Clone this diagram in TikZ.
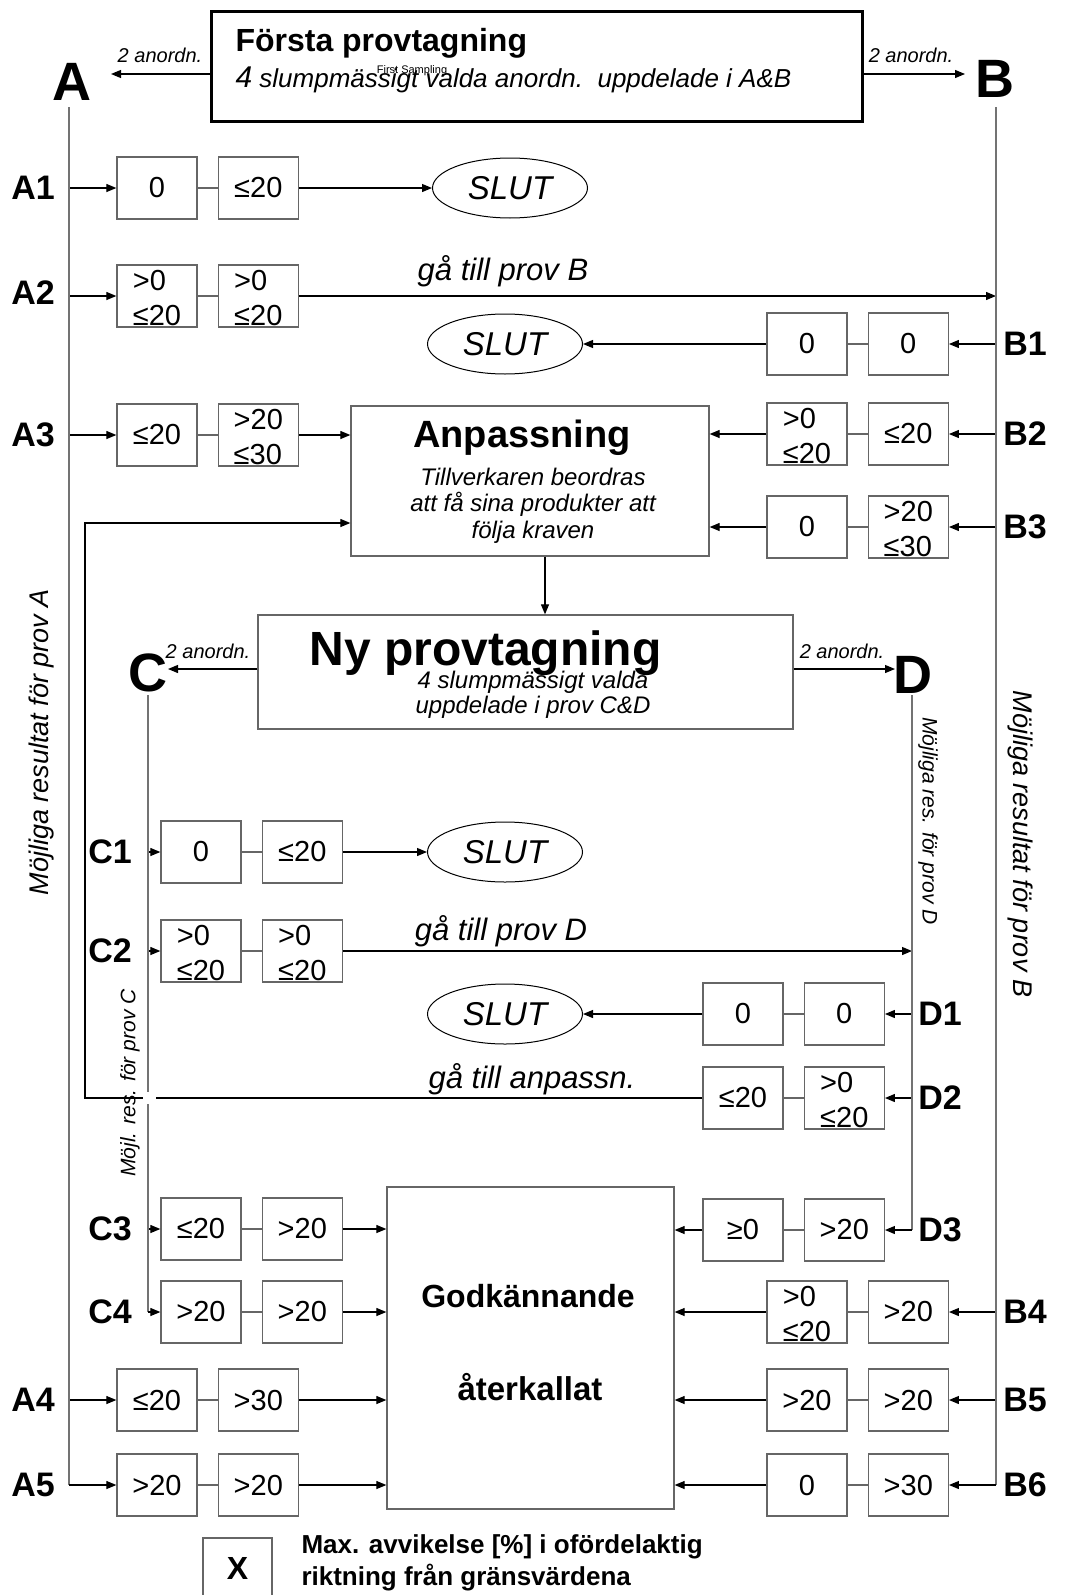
\documentclass[tikz,border=0pt]{standalone}
\usepackage{fontspec}
\setmainfont{Liberation Sans}
\usetikzlibrary{arrows.meta, positioning, shapes.geometric}

\newcommand{\fsz}[2]{\fontsize{#1}{#2}\selectfont}

\begin{document}
\begin{tikzpicture}[x=1pt, y=-1pt,
      val/.style={rectangle, draw=black!60, line width=1.3pt, minimum width=80pt,
                  minimum height=62pt, inner sep=0pt, font=\fsz{29}{35}},
      val2/.style={val, align=left, text height=60pt, text depth=1pt},
      slut/.style={ellipse, draw, line width=1pt, minimum width=155pt,
                   minimum height=60pt, inner sep=0pt, font=\itshape\fsz{33}{36}},
      stage/.style={rectangle, draw=black!60, line width=1.3pt, inner sep=0pt},
      flow/.style={-{Triangle[length=10pt,width=8pt]}, line width=1.2pt},
      link/.style={line width=1.2pt, draw=black!60},
      trunk/.style={line width=1.4pt, draw=black!55},
      rowlab/.style={font=\bfseries\fsz{34}{36}},
      big/.style={font=\bfseries\fsz{54}{54}},
      note/.style={font=\itshape\fsz{20}{22}},
      goto/.style={font=\itshape\fsz{31}{34}},
      side/.style={font=\itshape\fsz{27}{30}},
      sidesmall/.style={font=\itshape\fsz{21}{24}}
    ]
    \useasboundingbox (0,0) rectangle (1068,1595);

    % First sampling
    \node[draw, line width=3pt, minimum width=651pt, minimum height=110pt, inner sep=0pt] (first) at (537,66.5) {};
    \node[anchor=base west, font=\bfseries\fsz{32}{34}] (firstT) at (232,52) {Första provtagning};
    \node[anchor=base west, font=\itshape\fsz{26}{28}] (firstS) at (232,88) {{\fsz{30}{30}4} slumpmässigt valda anordn.\ \ uppdelade i A\&B};
    \node[font=\fsz{11}{12}] (firstE) at (412,71) {First Sampling};

    \node[big, anchor=base] (A) at (72,100) {A};
    \node[big, anchor=base] (B) at (995,97) {B};
    \coordinate (toA) at (111,74);
    \coordinate (toB) at (965,74);
    \coordinate (trunkA) at (69,107);
    \coordinate (trunkB) at (996,107);
    \draw[flow] (first.west |- toA) -- (toA);
    \draw[flow] (first.east |- toB) -- (toB);
    \node[note, anchor=base] at (160,63) {2 anordn.};
    \node[note, anchor=base] at (911,63) {2 anordn.};

    % Sample A, rows 1-3
    \node[rowlab] (lA1) at (33,188) {A1};
    \node[val] (a1a) at (157,188) {0};
    \node[val, right=20pt of a1a] (a1b) {≤20};
    \node[slut] (slutA1) at (510,188) {SLUT};
    \draw[link] (a1a) -- (a1b);
    \draw[flow] (trunkA |- a1a) -- (a1a);
    \draw[flow] (a1b) -- (slutA1);

    \node[rowlab] (lA2) at (33,293) {A2};
    \node[val2] (a2a) at (157,296) {>0\\≤20};
    \node[val2, right=20pt of a2a] (a2b) {>0\\≤20};
    \draw[link] (a2a) -- (a2b);
    \draw[flow] (trunkA |- a2a) -- (a2a);
    \draw[flow] (a2b) -- (trunkB |- a2b);
    \node[goto, anchor=base] at (503,280) {gå till prov B};

    \node[stage, minimum width=358pt, minimum height=150pt] (adapt) at (530,481) {};
    \node[anchor=base, font=\bfseries\fsz{38}{40}] (adaptT) at (522,447) {Anpassning};
    \node[anchor=base, align=center, font=\itshape\fsz{24}{26.5}] (adaptS) at (533,538)
      {Tillverkaren beordras\\att få sina produkter att\\följa kraven};

    \node[rowlab] (lA3) at (33,435) {A3};
    \node[val] (a3a) at (157,435) {≤20};
    \node[val2, right=20pt of a3a] (a3b) {>20\\≤30};
    \draw[link] (a3a) -- (a3b);
    \draw[flow] (trunkA |- a3a) -- (a3a);
    \draw[flow] (a3b) -- (a3b -| adapt.west);

    % Sample B, rows 1-3
    \node[rowlab] (lB1) at (1025,344) {B1};
    \node[val] (b1a) at (807,344) {0};
    \node[val, right=20pt of b1a] (b1b) {0};
    \node[slut] (slutB1) at (505,344) {SLUT};
    \draw[link] (b1a) -- (b1b);
    \draw[flow] (trunkB |- b1b) -- (b1b);
    \draw[flow] (b1a) -- (slutB1);

    \node[rowlab] (lB2) at (1025,434) {B2};
    \node[val2] (b2a) at (807,434) {>0\\≤20};
    \node[val, right=20pt of b2a] (b2b) {≤20};
    \draw[link] (b2a) -- (b2b);
    \draw[flow] (trunkB |- b2b) -- (b2b);
    \draw[flow] (b2a) -- (b2a -| adapt.east);

    \node[rowlab] (lB3) at (1025,527) {B3};
    \node[val] (b3a) at (807,527) {0};
    \node[val2, right=20pt of b3a] (b3b) {>20\\≤30};
    \draw[link] (b3a) -- (b3b);
    \draw[flow] (trunkB |- b3b) -- (b3b);
    \draw[flow] (b3a) -- (b3a -| adapt.east);

    % New sampling
    \node[stage, minimum width=535pt, minimum height=114pt] (again) at (525.5,672) {};
    \draw[flow] ([xshift=15pt]adapt.south) -- ([xshift=15pt]adapt.south |- again.north);
    \node[anchor=base, font=\bfseries\fsz{48}{50}] (againT) at (485.5,665) {Ny provtagning};
    \node[anchor=base, align=center, font=\itshape\fsz{24}{25}] (againS) at (533,713)
      {4 slumpmässigt valda\\uppdelade i prov C\&D};

    \node[big, anchor=base] (C) at (148,691) {C};
    \node[big, anchor=base] (D) at (913,693) {D};
    \coordinate (toC) at (168,669);
    \coordinate (toD) at (895,669);
    \coordinate (trunkC) at (148,695);
    \coordinate (trunkD) at (912,695);
    \draw[flow] (again.west |- toC) -- (toC);
    \draw[flow] (again.east |- toD) -- (toD);
    \node[note, anchor=base] at (208,658) {2 anordn.};
    \node[note, anchor=base] at (842,658) {2 anordn.};

    % Sample C, rows 1-2
    \node[rowlab] (lC1) at (110,852) {C1};
    \node[val] (c1a) at (201,852) {0};
    \node[val, right=20pt of c1a] (c1b) {≤20};
    \node[slut] (slutC1) at (505,852) {SLUT};
    \draw[link] (c1a) -- (c1b);
    \draw[flow] (trunkC |- c1a) -- (c1a);
    \draw[flow] (c1b) -- (slutC1);

    \node[rowlab] (lC2) at (110,951) {C2};
    \node[val2] (c2a) at (201,951) {>0\\≤20};
    \node[val2, right=20pt of c2a] (c2b) {>0\\≤20};
    \draw[link] (c2a) -- (c2b);
    \draw[flow] (trunkC |- c2a) -- (c2a);
    \draw[flow] (c2b) -- (trunkD |- c2b);
    \node[goto, anchor=base] at (501,940) {gå till prov D};

    % Sample D, rows 1-2
    \node[rowlab] (lD1) at (940,1014) {D1};
    \node[val] (d1a) at (743,1014) {0};
    \node[val, right=20pt of d1a] (d1b) {0};
    \node[slut] (slutD1) at (505,1014) {SLUT};
    \draw[link] (d1a) -- (d1b);
    \draw[flow] (trunkD |- d1b) -- (d1b);
    \draw[flow] (d1a) -- (slutD1);

    \node[rowlab] (lD2) at (940,1098) {D2};
    \node[val] (d2a) at (743,1098) {≤20};
    \node[val2, right=20pt of d2a] (d2b) {>0\\≤20};
    \draw[link] (d2a) -- (d2b);
    \draw[flow] (trunkD |- d2b) -- (d2b);
    \node[goto, anchor=base] at (532,1088) {gå till anpassn.};

    % back to Anpassning
    \coordinate (back) at (85,523);
    \draw[flow] (d2a) -- (back |- d2a) -- (back) -- (back -| adapt.west);

    % Approval / recall
    \node[stage, minimum width=287pt, minimum height=322pt] (verdict) at (530.5,1348) {};
    \node[anchor=base, font=\bfseries\fsz{32}{34}] (verdictT) at (528,1307) {Godkännande};
    \node[anchor=base, font=\bfseries\fsz{33}{34}] (verdictS) at (530,1400) {återkallat};

    \node[rowlab] (lD3) at (940,1230) {D3};
    \node[val] (d3a) at (743,1230) {≥0};
    \node[val, right=20pt of d3a] (d3b) {>20};
    \draw[link] (d3a) -- (d3b);
    \draw[flow] (d3a) -- (d3a -| verdict.east);

    \node[rowlab] (lC3) at (110,1229) {C3};
    \node[val] (c3a) at (201,1229) {≤20};
    \node[val, right=20pt of c3a] (c3b) {>20};
    \draw[link] (c3a) -- (c3b);
    \draw[flow] (trunkC |- c3a) -- (c3a);
    \draw[flow] (c3b) -- (c3b -| verdict.west);

    \node[rowlab] (lC4) at (110,1312) {C4};
    \node[val] (c4a) at (201,1312) {>20};
    \node[val, right=20pt of c4a] (c4b) {>20};
    \draw[link] (c4a) -- (c4b);
    \draw[flow] (c4b) -- (c4b -| verdict.west);

    \node[rowlab] (lB4) at (1025,1312) {B4};
    \node[val2] (b4a) at (807,1312) {>0\\≤20};
    \node[val, right=20pt of b4a] (b4b) {>20};
    \draw[link] (b4a) -- (b4b);
    \draw[flow] (trunkB |- b4b) -- (b4b);
    \draw[flow] (b4a) -- (b4a -| verdict.east);

    \node[rowlab] (lA4) at (33,1400) {A4};
    \node[val] (a4a) at (157,1400) {≤20};
    \node[val, right=20pt of a4a] (a4b) {>30};
    \draw[link] (a4a) -- (a4b);
    \draw[flow] (trunkA |- a4a) -- (a4a);
    \draw[flow] (a4b) -- (a4b -| verdict.west);

    \node[rowlab] (lB5) at (1025,1400) {B5};
    \node[val] (b5a) at (807,1400) {>20};
    \node[val, right=20pt of b5a] (b5b) {>20};
    \draw[link] (b5a) -- (b5b);
    \draw[flow] (trunkB |- b5b) -- (b5b);
    \draw[flow] (b5a) -- (b5a -| verdict.east);

    \node[rowlab] (lA5) at (33,1485) {A5};
    \node[val] (a5a) at (157,1485) {>20};
    \node[val, right=20pt of a5a] (a5b) {>20};
    \draw[link] (a5a) -- (a5b);
    \draw[flow] (a5b) -- (a5b -| verdict.west);

    \node[rowlab] (lB6) at (1025,1485) {B6};
    \node[val] (b6a) at (807,1485) {0};
    \node[val, right=20pt of b6a] (b6b) {>30};
    \draw[link] (b6a) -- (b6b);
    \draw[flow] (b6a) -- (b6a -| verdict.east);

    % trunk lines
    \draw[trunk] (trunkA) -- (trunkA |- a5a);
    \draw[flow] (trunkA |- a5a) -- (a5a);
    \draw[trunk] (trunkB) -- (trunkB |- b6b);
    \draw[flow] (trunkB |- b6b) -- (b6b);
    \draw[trunk] (trunkC) -- (trunkC |- c4a);
    \draw[flow] (trunkC |- c4a) -- (c4a);
    \draw[trunk] (trunkD) -- (trunkD |- d3b);
    \draw[flow] (trunkD |- d3b) -- (d3b);
    \fill[white] (143,1092) rectangle (156,1104);

    % side captions
    \node[side, rotate=90] at (42,742) {Möjliga resultat för prov A};
    \node[side, rotate=-90] at (1020,844) {Möjliga resultat för prov B};
    \node[sidesmall, rotate=90] at (130,1083) {Möjl. res. för prov C};
    \node[sidesmall, rotate=-90] at (928,821) {Möjliga res. för prov D};

    % legend
    \node[val, minimum width=69pt, minimum height=60pt, font=\bfseries\fsz{32}{32}] (key) at (237.5,1568) {X};
    \node[anchor=base west, align=left, font=\bfseries\fsz{26}{32}] (keyT) at (298,1585)
      {Max. avvikelse [\%] i ofördelaktig\\riktning från gränsvärdena};

  \end{tikzpicture}
\end{document}
